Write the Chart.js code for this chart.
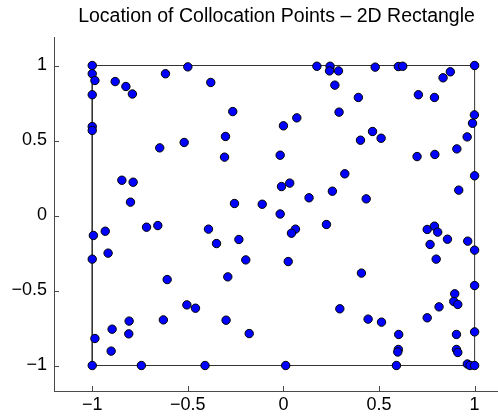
<!DOCTYPE html>
<html>
<head>
<meta charset="utf-8">
<title>Collocation Points</title>
<script src="https://cdn.jsdelivr.net/npm/chart.js@4.4.1/dist/chart.umd.min.js"></script>
<style>
    html, body { margin: 0; padding: 0; background: #fff; overflow: hidden; }
    #wrap { position: absolute; left: 0; top: 0; }
</style>
</head>
<body>
<div id="wrap"><canvas id="pointsChart" width="553" height="417"></canvas></div>
<script>
// ===== Collocation point coordinates =====
const ptsX = [
    -1, -1, -0.986, -1, -1, -1, -0.88, -0.824, -0.79, -0.617, -0.50, -0.38,
    -0.265, -0.303, -0.519, -0.647, -0.308, -0.845, -0.786, -0.80, -0.256, -0.111,
    0.175, 0.244, 0.241, 0.288, 0.48, 0.601, 0.624, 1, 0.873, 0.835,
    0.269, 0.706, 0.79, 0.392, 0.291, 0.07, 0, 0.999, 0.989, 0.961,
    0.907, 0.466, 0.511, 0.403, -0.017, 0.699, 0.792, 1, 0.321, 0.033,
    -0.01, 0.256, 0.134, 0.433, 0.917,
    -0.017, -0.716, -0.657, -0.932, -0.994, -0.392, -0.35, -0.233, -0.917, -1,
    -0.197, -0.608, -0.291, -0.505, -0.46, -0.628, -0.30, -0.807, -0.896, -0.809,
    -0.179, -0.986, -0.901, -1, -0.743, -0.41,
    0.063, 0.042, 0.225, 0.025, 0.408, 0.295, 0.443, 0.513, 0.603, 0.601,
    0.598, 0.591, 0.012, 0.752, 0.79, 0.807, 0.767, 0.858, 0.964, 1,
    0.799, 1, 0.896, 0.891, 0.912, 0.814, 0.752, 1, 0.905, 0.905,
    0.912, 0.962, 0.976, 1
];
const ptsY = [
    1, 0.945, 0.90, 0.805, 0.593, 0.567, 0.893, 0.86, 0.81, 0.945, 0.991, 0.887,
    0.693, 0.527, 0.487, 0.451, 0.389, 0.235, 0.222, 0.089, 0.08, 0.075,
    0.995, 0.995, 0.964, 0.964, 0.989, 0.993, 0.995, 1, 0.958, 0.918,
    0.869, 0.805, 0.787, 0.787, 0.689, 0.651, 0.598, 0.671, 0.615, 0.524,
    0.444, 0.56, 0.515, 0.502, 0.402, 0.393, 0.407, 0.265, 0.278, 0.216,
    0.193, 0.162, 0.118, 0.111, 0.169,
    0.01, -0.078, -0.067, -0.105, -0.133, -0.091, -0.187, -0.16, -0.251, -0.291,
    -0.296, -0.427, -0.409, -0.596, -0.618, -0.696, -0.698, -0.704, -0.758, -0.789,
    -0.787, -0.82, -0.904, -1, -1, -1,
    -0.091, -0.118, -0.06, -0.307, -0.384, -0.622, -0.691, -0.711, -0.793, -0.893,
    -0.91, -1, -1, -0.093, -0.071, -0.111, -0.193, -0.158, -0.171, -0.231,
    -0.291, -0.467, -0.522, -0.573, -0.593, -0.609, -0.682, -0.776, -0.793, -0.893,
    -0.913, -0.99, -1, -1
];

// Domain outline (closed rectangle)
const boxX = [-1, 1, 1, -1, -1];
const boxY = [-1, -1, 1, 1, -1];

// Axis ticks
const tickVals = [-1, -0.5, 0, 0.5, 1];
const tickLabels = ['\u22121', '\u22120.5', '0', '0.5', '1'];

const axisColor = '#4a4a4a';

// ===== Inward tick marks (MATLAB style) =====
const innerTicks = {
    id: 'innerTicks',
    beforeDatasetsDraw(chart) {
        const { ctx, chartArea, scales } = chart;
        ctx.save();
        ctx.strokeStyle = axisColor;
        ctx.lineWidth = 1;
        ctx.beginPath();
        tickVals.forEach(v => {
            const px = Math.round(scales.x.getPixelForValue(v)) + 0.5;
            ctx.moveTo(px, chartArea.bottom);
            ctx.lineTo(px, chartArea.bottom - 5);
            const py = Math.round(scales.y.getPixelForValue(v)) + 0.5;
            ctx.moveTo(chartArea.left, py);
            ctx.lineTo(chartArea.left + 5, py);
        });
        ctx.stroke();
        ctx.restore();
    }
};

const tickFont = { family: '"Liberation Sans", Arial, sans-serif', size: 18 };
const labelFor = (v) => tickLabels[tickVals.indexOf(v)] ?? '';

// ===== Chart =====
new Chart(document.getElementById('pointsChart'), {
    type: 'scatter',
    data: {
        datasets: [
            {
                label: 'Points',
                data: ptsX.map((x, i) => ({ x, y: ptsY[i] })),
                backgroundColor: '#0000ff',
                borderColor: '#000',
                borderWidth: 1,
                pointRadius: 4.2
            },
            {
                label: 'Boundary',
                data: boxX.map((x, i) => ({ x, y: boxY[i] })),
                showLine: true,
                borderColor: '#333',
                borderWidth: 1,
                pointRadius: 0,
                fill: false
            }
        ]
    },
    options: {
        responsive: false,
        animation: false,
        events: [],
        layout: { padding: 0, autoPadding: false },
        plugins: {
            legend: { display: false },
            tooltip: { enabled: false },
            title: {
                display: true,
                text: 'Location of Collocation Points \u2013 2D Rectangle',
                color: '#000',
                font: { family: '"Liberation Sans", Arial, sans-serif', size: 19.5, weight: 'normal' },
                padding: { top: 5, bottom: 8.6 }
            }
        },
        scales: {
            x: {
                type: 'linear',
                min: -1.2,
                max: 1.41,
                grid: { display: false, drawTicks: false },
                border: { display: true, color: axisColor, width: 1 },
                ticks: {
                    color: '#000',
                    font: tickFont,
                    padding: 3,
                    maxRotation: 0,
                    callback: labelFor
                },
                afterBuildTicks: (s) => { s.ticks = tickVals.map(v => ({ value: v })); },
                afterFit: (s) => {
                    s.height = 26;
                    s.paddingLeft = 0;
                    s.paddingRight = 0;
                }
            },
            y: {
                type: 'linear',
                min: -1.17,
                max: 1.19,
                grid: { display: false, drawTicks: false },
                border: { display: true, color: axisColor, width: 1 },
                ticks: {
                    color: '#000',
                    font: tickFont,
                    padding: 7,
                    callback: labelFor
                },
                afterBuildTicks: (s) => { s.ticks = tickVals.map(v => ({ value: v })); },
                afterFit: (s) => {
                    s.width = 54;
                    s.paddingTop = 0;
                    s.paddingBottom = 0;
                }
            }
        }
    },
    plugins: [innerTicks]
});
</script>
</body>
</html>
